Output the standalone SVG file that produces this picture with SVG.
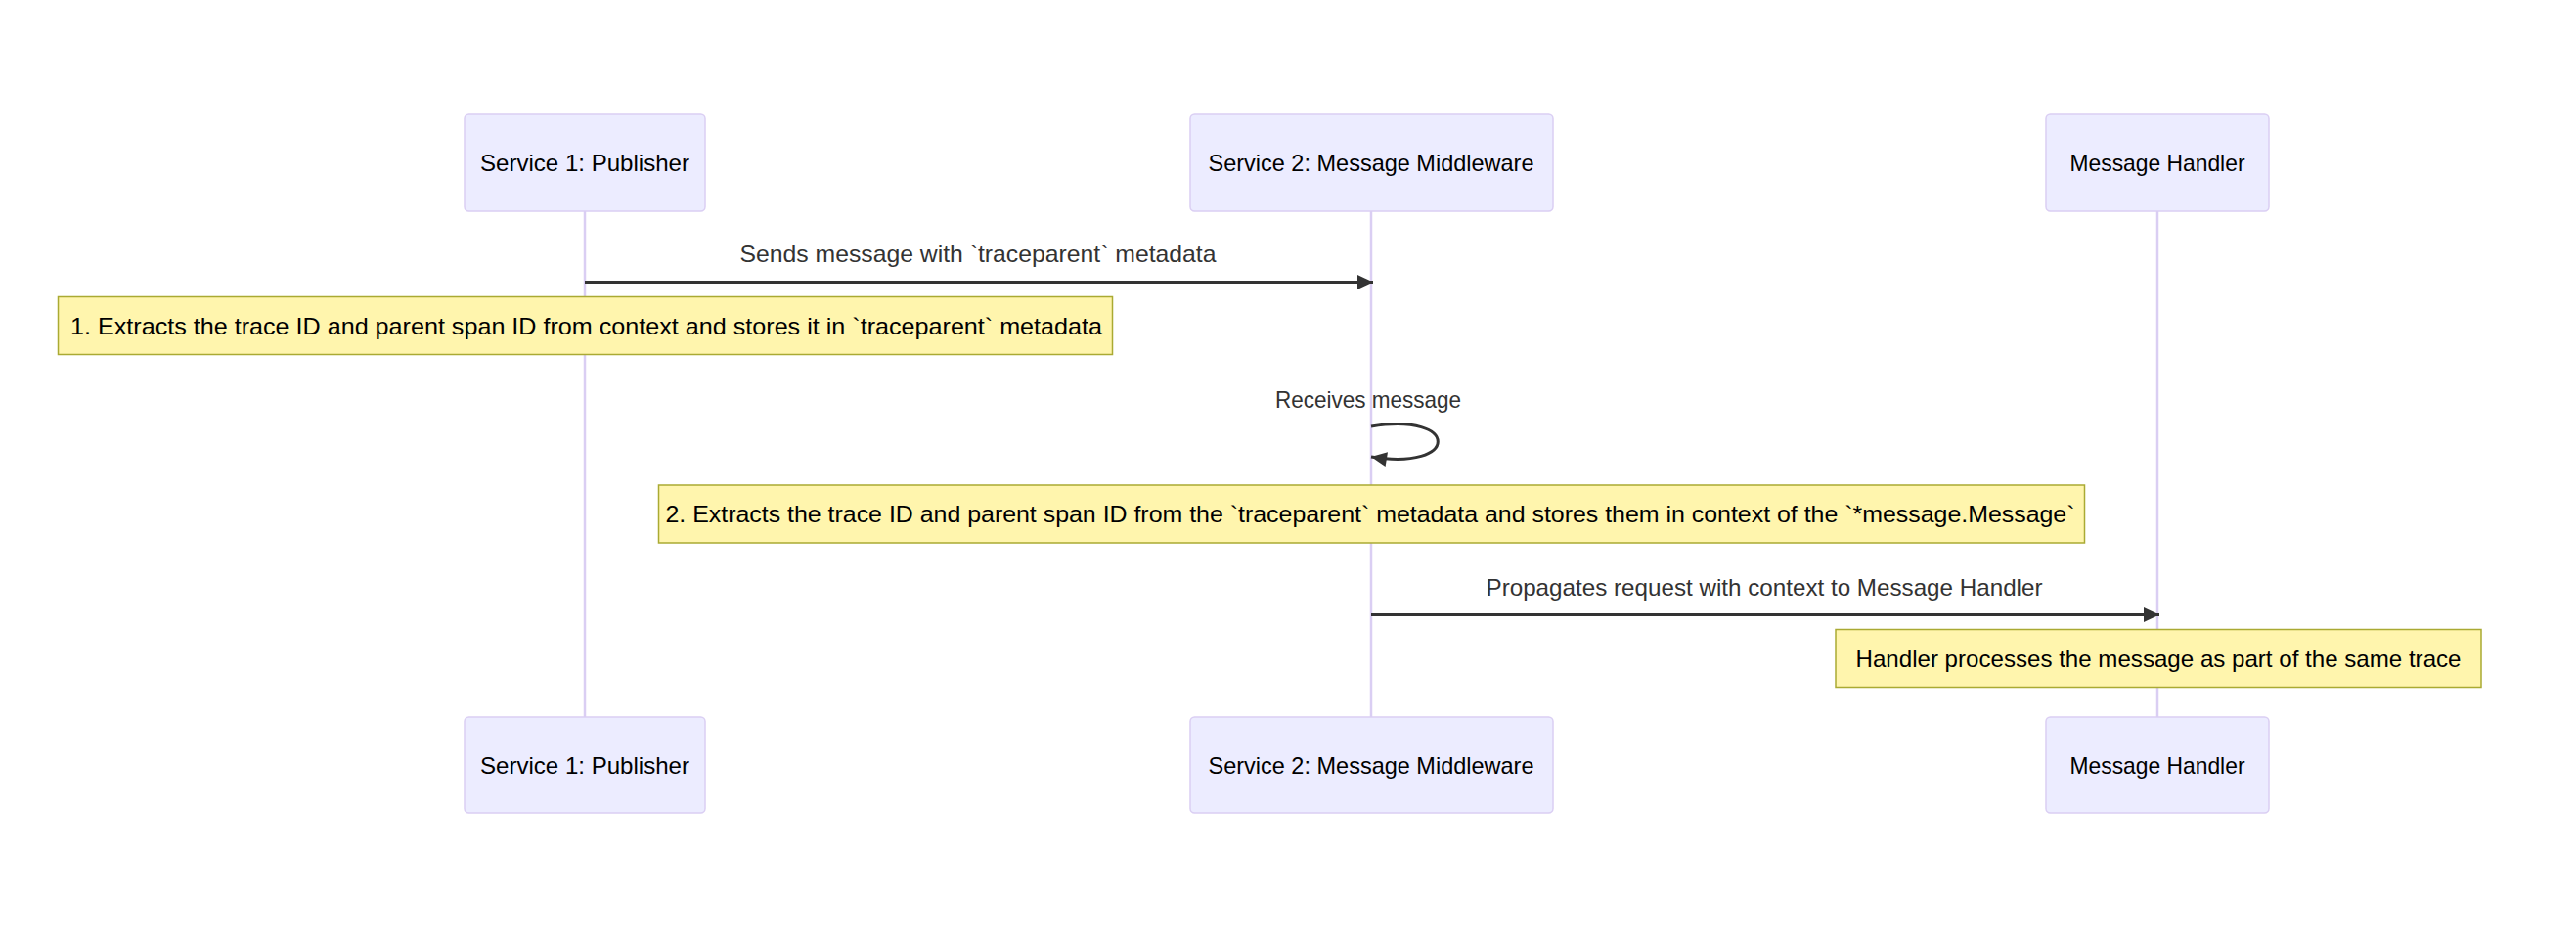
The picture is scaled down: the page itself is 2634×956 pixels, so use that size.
<svg xmlns="http://www.w3.org/2000/svg" width="2634" height="956" viewBox="0 0 2634 956">
<style>
  text { font-family: "Liberation Sans", Arial, sans-serif; font-size: 24px; }
  .actor rect { fill: #ECECFF; stroke: #DACEF3; stroke-width: 1.5; }
  .actor text { fill: #000; text-anchor: middle; dominant-baseline: central; }
  .lifeline { stroke: #DACEF3; stroke-width: 2.5; fill: none; }
  .msg { stroke: #333; stroke-width: 3; fill: none; }
  .msgtext { fill: #333; text-anchor: middle; }
  .note rect { fill: #FFF5AD; stroke: #AAAA33; stroke-width: 1.5; }
  .note text { fill: #000; text-anchor: middle; dominant-baseline: central; }
</style>
<defs>
  <marker id="arrow" markerUnits="userSpaceOnUse" markerWidth="18" markerHeight="16" refX="17" refY="7.5" orient="auto">
    <path d="M1,0 L17,7.5 L1,15 z" fill="#333"/>
  </marker>
</defs>
<rect width="2634" height="956" fill="#ffffff"/>

<g id="lifelines">
  <line class="lifeline" x1="598" y1="216" x2="598" y2="733"/>
  <line class="lifeline" x1="1402" y1="216" x2="1402" y2="733"/>
  <line class="lifeline" x1="2206" y1="216" x2="2206" y2="733"/>
</g>

<g id="actor-publisher-top" class="actor">
  <rect x="475" y="117" width="246" height="99" rx="4.5"/>
  <text x="598" y="166.5" textLength="214" lengthAdjust="spacingAndGlyphs">Service 1: Publisher</text>
</g>
<g id="actor-middleware-top" class="actor">
  <rect x="1217" y="117" width="371" height="99" rx="4.5"/>
  <text x="1402" y="166.5" textLength="333" lengthAdjust="spacingAndGlyphs">Service 2: Message Middleware</text>
</g>
<g id="actor-handler-top" class="actor">
  <rect x="2092" y="117" width="228" height="99" rx="4.5"/>
  <text x="2206" y="166.5" textLength="179" lengthAdjust="spacingAndGlyphs">Message Handler</text>
</g>

<g id="actor-publisher-bottom" class="actor">
  <rect x="475" y="733" width="246" height="98" rx="4.5"/>
  <text x="598" y="782" textLength="214" lengthAdjust="spacingAndGlyphs">Service 1: Publisher</text>
</g>
<g id="actor-middleware-bottom" class="actor">
  <rect x="1217" y="733" width="371" height="98" rx="4.5"/>
  <text x="1402" y="782" textLength="333" lengthAdjust="spacingAndGlyphs">Service 2: Message Middleware</text>
</g>
<g id="actor-handler-bottom" class="actor">
  <rect x="2092" y="733" width="228" height="98" rx="4.5"/>
  <text x="2206" y="782" textLength="179" lengthAdjust="spacingAndGlyphs">Message Handler</text>
</g>

<g id="connectors">
  <text class="msgtext" x="1000" y="268" textLength="487" lengthAdjust="spacingAndGlyphs">Sends message with `traceparent` metadata</text>
  <line class="msg" x1="598" y1="288.5" x2="1404" y2="288.5" marker-end="url(#arrow)"/>

  <text class="msgtext" x="1399" y="416.5" textLength="190" lengthAdjust="spacingAndGlyphs">Receives message</text>
  <path class="msg" d="M1402,436 C1493,421 1493,482 1402,467" marker-end="url(#arrow)"/>

  <text class="msgtext" x="1804" y="609" textLength="569" lengthAdjust="spacingAndGlyphs">Propagates request with context to Message Handler</text>
  <line class="msg" x1="1402" y1="628.5" x2="2208" y2="628.5" marker-end="url(#arrow)"/>
</g>

<g id="note-1" class="note">
  <rect x="59.5" y="303.5" width="1078" height="59"/>
  <text x="599.5" y="333" textLength="1055" lengthAdjust="spacingAndGlyphs">1. Extracts the trace ID and parent span ID from context and stores it in `traceparent` metadata</text>
</g>
<g id="note-2" class="note">
  <rect x="673.5" y="496" width="1458" height="59"/>
  <text x="1401" y="525.5" textLength="1441" lengthAdjust="spacingAndGlyphs">2. Extracts the trace ID and parent span ID from the `traceparent` metadata and stores them in context of the `*message.Message`</text>
</g>
<g id="note-3" class="note">
  <rect x="1877" y="643.5" width="660" height="59"/>
  <text x="2207" y="673" textLength="619" lengthAdjust="spacingAndGlyphs">Handler processes the message as part of the same trace</text>
</g>
</svg>
